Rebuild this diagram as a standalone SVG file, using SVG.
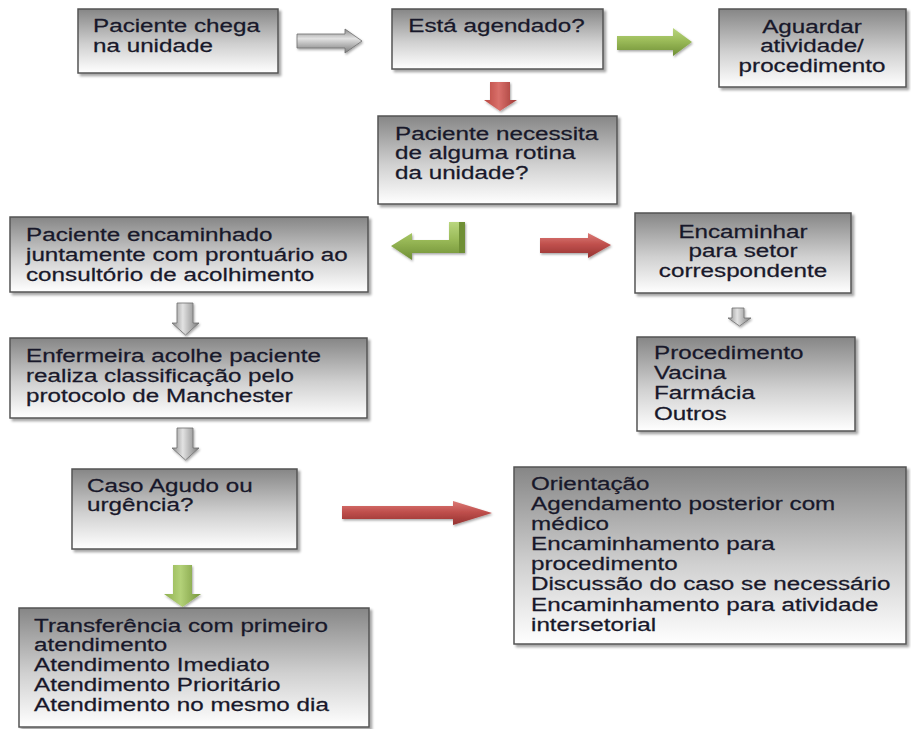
<svg xmlns="http://www.w3.org/2000/svg" width="911" height="729" viewBox="0 0 911 729">
<defs>
<linearGradient id="boxg" x1="0" y1="0" x2="0" y2="1">
<stop offset="0" stop-color="#868686"/>
<stop offset="0.55" stop-color="#d0d0d0"/>
<stop offset="1" stop-color="#ffffff"/>
</linearGradient>
<linearGradient id="grayH" x1="0" y1="0" x2="0" y2="1">
<stop offset="0" stop-color="#8a8a8a"/>
<stop offset="0.4" stop-color="#e2e2e2"/>
<stop offset="1" stop-color="#7a7a7a"/>
</linearGradient>
<linearGradient id="grayV" x1="0" y1="0" x2="1" y2="0">
<stop offset="0" stop-color="#8a8a8a"/>
<stop offset="0.4" stop-color="#e2e2e2"/>
<stop offset="1" stop-color="#7a7a7a"/>
</linearGradient>
<linearGradient id="greenH" x1="0" y1="0" x2="0" y2="1">
<stop offset="0" stop-color="#b9d67e"/>
<stop offset="0.45" stop-color="#9bbb59"/>
<stop offset="1" stop-color="#6f8f35"/>
</linearGradient>
<linearGradient id="greenV" x1="0" y1="0" x2="1" y2="0">
<stop offset="0" stop-color="#8fb04e"/>
<stop offset="0.45" stop-color="#b3d178"/>
<stop offset="1" stop-color="#76963b"/>
</linearGradient>
<linearGradient id="redH" x1="0" y1="0" x2="0" y2="1">
<stop offset="0" stop-color="#dc7a76"/>
<stop offset="0.45" stop-color="#c0504d"/>
<stop offset="1" stop-color="#943230"/>
</linearGradient>
<linearGradient id="redV" x1="0" y1="0" x2="1" y2="0">
<stop offset="0" stop-color="#b8463f"/>
<stop offset="0.45" stop-color="#d9706b"/>
<stop offset="1" stop-color="#9e3734"/>
</linearGradient>
<filter id="sh" x="-10%" y="-10%" width="130%" height="130%">
<feDropShadow dx="2.5" dy="2.5" stdDeviation="1" flood-color="#000" flood-opacity="0.35"/>
</filter>
<filter id="ash" x="-10%" y="-10%" width="130%" height="140%">
<feDropShadow dx="1" dy="1.5" stdDeviation="0.8" flood-color="#000" flood-opacity="0.35"/>
</filter>
</defs>
<style>
.box{fill:url(#boxg);stroke:#555555;stroke-width:1.5;filter:url(#sh)}
.t{font-family:"Liberation Sans",Arial,sans-serif;font-size:18.5px;fill:#18182a;stroke:#18182a;stroke-width:0.25}
.c{text-anchor:middle}
.arr{filter:url(#ash)}
</style>
<rect width="911" height="729" fill="#ffffff"/>

<g id="connectors">
<polygon class="arr" fill="url(#grayH)" stroke="#6e6e6e" stroke-width="0.8" points="297,34 345,34 345,29 362,41 345,53 345,48 297,48"/>
<polygon class="arr" fill="url(#greenH)" points="617,36 673,36 673,28 692,42 673,56 673,50 617,50"/>
<polygon class="arr" fill="url(#redV)" points="490,82 510,82 510,100 517,100 500,111 484,100 490,100"/>
<polygon class="arr" fill="url(#greenH)" points="391,246 412,233 412,240 449,240 449,222 465,222 465,253 412,253 412,260"/>
<rect x="459" y="222" width="6" height="31" fill="#6f8f35"/>
<polygon class="arr" fill="url(#redH)" points="540,238 588,238 588,233 611,245 588,258 588,253 540,253"/>
<polygon class="arr" fill="url(#grayV)" stroke="#6e6e6e" stroke-width="0.8" points="177,303 193,303 193,323 199,323 185.5,335 172,323 177,323"/>
<polygon class="arr" fill="url(#grayV)" stroke="#6e6e6e" stroke-width="0.8" points="177,428 193,428 193,448 199,448 185.5,460 172,448 177,448"/>
<polygon class="arr" fill="url(#grayV)" stroke="#6e6e6e" stroke-width="0.8" points="732,308 744,308 744,318 751,318 739.5,326 728,318 732,318"/>
<polygon class="arr" fill="url(#redH)" points="342,506 453,506 453,501 492,513 453,525 453,519 342,519"/>
<polygon class="arr" fill="url(#greenV)" points="173,565 192,565 192,594 201,594 182.5,607 164,594 173,594"/>
</g>

<g id="n1">
<rect class="box" x="78" y="9" width="200" height="64"/>
<text class="t" transform="translate(93,31.5) scale(1.31,1)"><tspan x="0" y="0">Paciente chega</tspan><tspan x="0" y="20.5">na unidade</tspan></text>
</g>
<g id="n2">
<rect class="box" x="392" y="9" width="211" height="60"/>
<text class="t c" transform="translate(496.5,31.5) scale(1.31,1)"><tspan x="0" y="0">Está agendado?</tspan></text>
</g>
<g id="n3">
<rect class="box" x="719" y="9" width="187" height="78"/>
<text class="t c" transform="translate(812,33) scale(1.31,1)"><tspan x="0" y="0">Aguardar</tspan><tspan x="0" y="19.5">atividade/</tspan><tspan x="0" y="39">procedimento</tspan></text>
</g>
<g id="n4">
<rect class="box" x="378" y="116" width="239" height="88"/>
<text class="t" transform="translate(395,139.5) scale(1.31,1)"><tspan x="0" y="0">Paciente necessita</tspan><tspan x="0" y="20">de alguma rotina</tspan><tspan x="0" y="40">da unidade?</tspan></text>
</g>
<g id="n5">
<rect class="box" x="10" y="217" width="358" height="75"/>
<text class="t" transform="translate(26,240.5) scale(1.31,1)"><tspan x="0" y="0">Paciente encaminhado</tspan><tspan x="0" y="20.3">juntamente com prontuário ao</tspan><tspan x="0" y="40.6">consultório de acolhimento</tspan></text>
</g>
<g id="n6">
<rect class="box" x="10" y="338" width="357" height="80"/>
<text class="t" transform="translate(26,361.5) scale(1.31,1)"><tspan x="0" y="0">Enfermeira acolhe paciente</tspan><tspan x="0" y="20.3">realiza classificação pelo</tspan><tspan x="0" y="40.6">protocolo de Manchester</tspan></text>
</g>
<g id="n7">
<rect class="box" x="635" y="213" width="216" height="80"/>
<text class="t c" transform="translate(743,237.5) scale(1.31,1)"><tspan x="0" y="0">Encaminhar</tspan><tspan x="0" y="19.8">para setor</tspan><tspan x="0" y="39.6">correspondente</tspan></text>
</g>
<g id="n8">
<rect class="box" x="637" y="337" width="218" height="94"/>
<text class="t" transform="translate(654,359) scale(1.31,1)"><tspan x="0" y="0">Procedimento</tspan><tspan x="0" y="20.2">Vacina</tspan><tspan x="0" y="40.4">Farmácia</tspan><tspan x="0" y="60.6">Outros</tspan></text>
</g>
<g id="n9">
<rect class="box" x="72" y="469" width="225" height="80"/>
<text class="t" transform="translate(87,491.5) scale(1.31,1)"><tspan x="0" y="0">Caso Agudo ou</tspan><tspan x="0" y="20">urgência?</tspan></text>
</g>
<g id="n10">
<rect class="box" x="19" y="608" width="350" height="119"/>
<text class="t" transform="translate(34,631.5) scale(1.31,1)"><tspan x="0" y="0">Transferência com primeiro</tspan><tspan x="0" y="20">atendimento</tspan><tspan x="0" y="40">Atendimento Imediato</tspan><tspan x="0" y="60">Atendimento Prioritário</tspan><tspan x="0" y="80">Atendimento no mesmo dia</tspan></text>
</g>
<g id="n11">
<rect class="box" x="514" y="467" width="392" height="177"/>
<text class="t" transform="translate(531,490) scale(1.31,1)"><tspan x="0" y="0">Orientação</tspan><tspan x="0" y="20.1">Agendamento posterior com</tspan><tspan x="0" y="40.2">médico</tspan><tspan x="0" y="60.3">Encaminhamento para</tspan><tspan x="0" y="80.4">procedimento</tspan><tspan x="0" y="100.5">Discussão do caso se necessário</tspan><tspan x="0" y="120.6">Encaminhamento para atividade</tspan><tspan x="0" y="140.7">intersetorial</tspan></text>
</g>
</svg>
